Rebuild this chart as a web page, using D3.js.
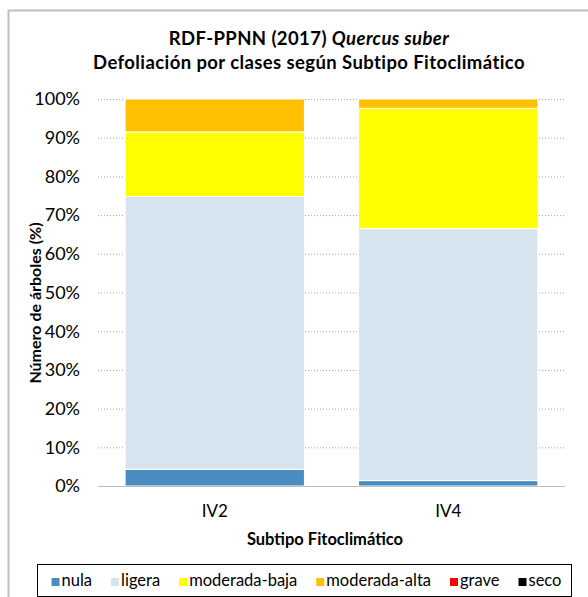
<!DOCTYPE html>
<html>
<head>
<meta charset="utf-8">
<script src="https://cdn.jsdelivr.net/npm/d3@7"></script>
<style>
  body { margin: 0; background: #fff; }
  svg { display: block; font-family: Lato, "Open Sans", sans-serif; }
</style>
</head>
<body>
<div id="chart"></div>
<script>
// Data (percent of trees per class)
const categories = ['IV2', 'IV4'];
const classes = ['nula', 'ligera', 'moderada-baja', 'moderada-alta', 'grave', 'seco'];
const nula = [4.3, 1.4];
const ligera = [70.5, 65.1];
const moderadaBaja = [16.7, 31.1];
const moderadaAlta = [8.5, 2.4];
const grave = [0, 0];
const seco = [0, 0];
const yTicks = [0, 10, 20, 30, 40, 50, 60, 70, 80, 90, 100];

const colors = ['#4a8cbf', '#d6e4f0', '#ffff00', '#ffc000', '#ff0000', '#000000'];

const W = 588, H = 597;
const margin = { top: 99, right: 23, bottom: 111, left: 98 };
const width = W - margin.left - margin.right;
const height = H - margin.top - margin.bottom;

const table = categories.map((c, i) => ({
    cat: c,
    'nula': nula[i],
    'ligera': ligera[i],
    'moderada-baja': moderadaBaja[i],
    'moderada-alta': moderadaAlta[i],
    'grave': grave[i],
    'seco': seco[i]
}));

const svg = d3.select('#chart').append('svg')
    .attr('width', W)
    .attr('height', H);

// Outer chart border
svg.append('rect')
    .attr('x', 8.5).attr('y', 10.5)
    .attr('width', 620).attr('height', 620)
    .attr('fill', '#fff')
    .attr('stroke', '#bfbfbf')
    .attr('stroke-width', 2);

// Title
const title = svg.append('text')
    .attr('x', 309).attr('y', 45)
    .attr('text-anchor', 'middle')
    .style('font-size', '18.5px')
    .style('font-weight', 'bold')
    .style('letter-spacing', '0.4px')
    .attr('fill', '#000');
title.append('tspan').text('RDF-PPNN (2017) ');
title.append('tspan').style('font-style', 'italic').text('Quercus suber');

svg.append('text')
    .attr('x', 309).attr('y', 69)
    .attr('text-anchor', 'middle')
    .style('font-size', '18.5px')
    .style('font-weight', 'bold')
    .style('letter-spacing', '0.4px')
    .text('Defoliación por clases según Subtipo Fitoclimático');

const g = svg.append('g')
    .attr('transform', `translate(${margin.left},${margin.top})`);

const x = d3.scaleBand()
    .domain(categories)
    .range([0, width])
    .paddingInner(0.232)
    .paddingOuter(0.116);

const y = d3.scaleLinear()
    .domain([0, 100])
    .range([height, 0]);

// Grid lines (dotted)
g.append('g')
    .selectAll('line')
    .data(yTicks.filter(t => t > 0))
    .join('line')
    .attr('x1', 0).attr('x2', width)
    .attr('y1', d => y(d) + 0.5).attr('y2', d => y(d) + 0.5)
    .attr('stroke', '#a6a6a6')
    .attr('stroke-width', 1)
    .attr('stroke-dasharray', '1,2');

// Stacked bars
const stack = d3.stack().keys(classes);
const series = stack(table);

g.append('g')
    .selectAll('g')
    .data(series)
    .join('g')
    .attr('fill', (d, i) => colors[i])
    .selectAll('rect')
    .data(d => d)
    .join('rect')
    .attr('x', d => x(d.data.cat))
    .attr('y', d => y(d[1]))
    .attr('height', d => Math.max(0, y(d[0]) - y(d[1])))
    .attr('width', x.bandwidth())
    .attr('stroke', d => (d[1] - d[0]) > 0 ? '#fff' : 'none')
    .attr('stroke-width', 1);

// X axis line
g.append('line')
    .attr('x1', 0).attr('x2', width)
    .attr('y1', height + 0.5).attr('y2', height + 0.5)
    .attr('stroke', '#bfbfbf');

// Y tick labels
g.append('g')
    .selectAll('text')
    .data(yTicks)
    .join('text')
    .attr('x', -18)
    .attr('y', d => y(d))
    .attr('dy', '0.35em')
    .attr('text-anchor', 'end')
    .style('font-size', '18px')
    .attr('fill', '#000')
    .text(d => d + '%');

// X tick labels
g.append('g')
    .selectAll('text')
    .data(categories)
    .join('text')
    .attr('x', d => x(d) + x.bandwidth() / 2)
    .attr('y', height + 31)
    .attr('text-anchor', 'middle')
    .style('font-size', '17px')
    .text(d => d);

// Axis titles
svg.append('text')
    .attr('x', 325).attr('y', 545)
    .attr('text-anchor', 'middle')
    .style('font-size', '16.5px')
    .style('font-weight', 'bold')
    .text('Subtipo Fitoclimático');

svg.append('text')
    .attr('transform', 'translate(41,303) rotate(-90)')
    .attr('text-anchor', 'middle')
    .style('font-size', '16px')
    .style('font-weight', 'bold')
    .text('Número de árboles (%)');

// Legend
const legendBox = { x: 37.5, y: 564.5, w: 534, h: 32 };
svg.append('rect')
    .attr('x', legendBox.x).attr('y', legendBox.y)
    .attr('width', legendBox.w).attr('height', legendBox.h)
    .attr('fill', '#fff')
    .attr('stroke', '#000')
    .attr('stroke-width', 1);

const legend = svg.append('g');
const items = legend.selectAll('g')
    .data(classes)
    .join('g');
items.append('rect')
    .attr('width', 8).attr('height', 8)
    .attr('y', -8)
    .attr('fill', (d, i) => colors[i]);
items.append('text')
    .attr('x', 10)
    .style('font-size', '16.5px')
    .text(d => d);

const gap = 19;
let cursor = 0;
const offsets = [];
items.each(function () {
    offsets.push(cursor);
    const tw = d3.select(this).select('text').node().getComputedTextLength();
    cursor += 10 + tw + gap;
});
const total = cursor - gap;
const startX = legendBox.x + 2 + (legendBox.w - total) / 2;
items.attr('transform', (d, i) => `translate(${startX + offsets[i]},586)`);
</script>
</body>
</html>
